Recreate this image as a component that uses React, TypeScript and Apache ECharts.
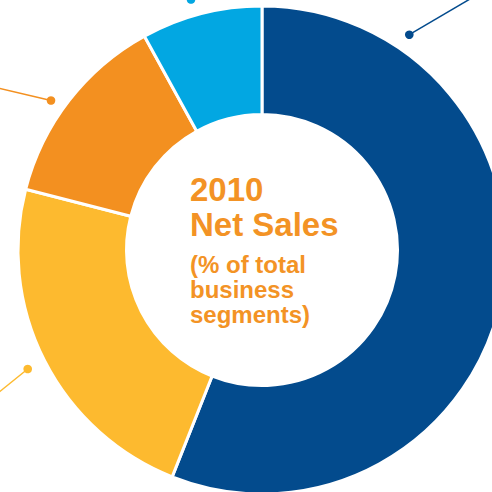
import React, { useEffect, useRef } from "react";
import * as echarts from "echarts";

const segments = ["Segment A", "Segment B", "Segment C", "Segment D"];
const shares = [56, 23, 13, 8];
const colors = ["#034B8D", "#FDBA2F", "#F39020", "#02A7E2"];
const titleLines = ["2010", "Net Sales"];
const subtitleLines = ["(% of total", "business", "segments)"];

export default function App() {
  const ref = useRef<HTMLDivElement>(null);
  useEffect(() => {
    document.body.style.margin = "0";
    const chart = echarts.init(ref.current!, null, { renderer: "svg" });
    const orange = "#F39325";
    const font = "Liberation Sans, Arial, sans-serif";
    const graphics: any[] = [];
    graphics.push({
      type: "text",
      x: 190,
      y: 172,
      style: {
        text: titleLines.join("\n"),
        fill: orange,
        font: `bold 33px ${font}`,
        lineHeight: 35,
        textAlign: "left",
        textVerticalAlign: "top",
      },
    });
    graphics.push({
      type: "text",
      x: 190,
      y: 252.1,
      style: {
        text: subtitleLines.join("\n"),
        fill: orange,
        font: `bold 24px ${font}`,
        lineHeight: 25,
        textAlign: "left",
        textVerticalAlign: "top",
      },
    });
    const leaders = [
      { from: [409.3, 34.7], to: [470, -1], c: colors[0] },
      { from: [51, 100.5], to: [-2, 88], c: colors[2] },
      { from: [27.7, 369], to: [-2, 393], c: colors[1] },
    ];
    leaders.forEach((l) => {
      graphics.push({
        type: "line",
        shape: { x1: l.from[0], y1: l.from[1], x2: l.to[0], y2: l.to[1] },
        style: { stroke: l.c, lineWidth: 1.5 },
      });
      graphics.push({ type: "circle", shape: { cx: l.from[0], cy: l.from[1], r: 4.3 }, style: { fill: l.c } });
    });
    graphics.push({ type: "circle", shape: { cx: 191, cy: -0.5, r: 4.3 }, style: { fill: colors[3] } });

    chart.setOption({
      animation: false,
      series: [
        {
          type: "pie",
          center: [262, 250],
          radius: [135.5, 244],
          startAngle: 90,
          clockwise: true,
          silent: true,
          label: { show: false },
          labelLine: { show: false },
          itemStyle: { borderColor: "#ffffff", borderWidth: 3 },
          data: segments.map((n, i) => ({ name: n, value: shares[i], itemStyle: { color: colors[i] } })),
        },
      ],
      graphic: graphics,
    });
    return () => chart.dispose();
  }, []);
  return <div ref={ref} style={{ width: 492, height: 492 }} />;
}
